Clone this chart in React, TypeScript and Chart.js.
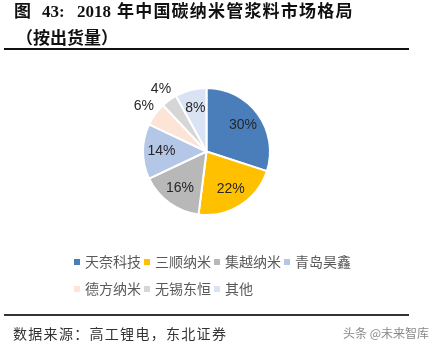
import React, { useEffect, useRef } from "react";
import { Chart, registerables } from "chart.js";

Chart.register(...registerables);

const categories = ["天奈科技", "三顺纳米", "集越纳米", "青岛昊鑫", "德方纳米", "无锡东恒", "其他"];
const shares = [30, 22, 16, 14, 6, 4, 8];
const colors = ["#4A7EBB", "#FFC000", "#B8B8B8", "#B4C7E7", "#FCE4D6", "#D6D6D6", "#DAE3F3"];

const labelPlugin = {
  id: "sliceLabels",
  afterDatasetsDraw(chart: any) {
    const ctx = chart.ctx;
    const meta = chart.getDatasetMeta(0);
    const values = chart.data.datasets[0].data as number[];
    ctx.save();
    ctx.font = '14px "Liberation Sans", Arial, sans-serif';
    ctx.fillStyle = "#262626";
    ctx.textAlign = "center";
    ctx.textBaseline = "middle";
    meta.data.forEach((arc: any, i: number) => {
      const { x, y, startAngle, endAngle, outerRadius } = arc.getProps(
        ["x", "y", "startAngle", "endAngle", "outerRadius"],
        true
      );
      const mid = (startAngle + endAngle) / 2;
      const f = values[i] < 7 ? 1.22 : 0.71;
      ctx.fillText(values[i] + "%", x + Math.cos(mid) * outerRadius * f, y + Math.sin(mid) * outerRadius * f);
    });
    ctx.restore();
  },
};

export default function App() {
  const ref = useRef<HTMLCanvasElement>(null);
  useEffect(() => {
    if (!ref.current) return;
    const chart = new Chart(ref.current, {
      type: "pie",
      data: {
        labels: categories,
        datasets: [
          {
            data: shares,
            backgroundColor: colors,
            borderColor: "#ffffff",
            borderWidth: 2,
          },
        ],
      },
      options: {
        animation: false,
        responsive: false,
        layout: { padding: { left: 142, right: 161, top: 87, bottom: 136 } },
        plugins: { legend: { display: false }, tooltip: { enabled: false } },
      },
      plugins: [labelPlugin],
    });
    return () => chart.destroy();
  }, []);

  const cjkBold = '"Liberation Serif", "Noto Sans CJK SC", serif';
  return (
    <div style={{ position: "absolute", left: 0, top: 0, width: 432, height: 352, background: "#fff", overflow: "hidden" }}>
      <canvas ref={ref} width={432} height={352} style={{ position: "absolute", left: 0, top: 0 }} />
      <div style={{ position: "absolute", top: 1, left: 0, fontFamily: cjkBold, fontWeight: 700, fontSize: 17, lineHeight: "22px", color: "#111", whiteSpace: "nowrap" }}>
        <span style={{ position: "absolute", left: 14 }}>图</span>
        <span style={{ position: "absolute", left: 42 }}>43:</span>
        <span style={{ position: "absolute", left: 77 }}>2018</span>
        <span style={{ position: "absolute", left: 117, letterSpacing: 1.2 }}>年中国碳纳米管浆料市场格局</span>
      </div>
      <div style={{ position: "absolute", top: 28, left: 16, fontFamily: cjkBold, fontWeight: 700, fontSize: 17, lineHeight: "22px", color: "#111", whiteSpace: "nowrap" }}>
        （按出货量）
      </div>
      <div style={{ position: "absolute", left: 4, top: 48, width: 405, height: 2, background: "#111" }} />
      <div style={{ position: "absolute", left: 74, top: 248, width: 290, display: "flex", flexWrap: "wrap", fontFamily: '"Noto Sans CJK SC", sans-serif', fontSize: 14, lineHeight: "27px", color: "#595959" }}>
        {categories.map((c, i) => (
          <div key={c} style={{ display: "flex", alignItems: "center", marginRight: 3, height: 27 }}>
            <span style={{ width: 6, height: 6, background: colors[i], marginRight: 5, display: "inline-block" }} />
            <span>{c}</span>
          </div>
        ))}
      </div>
      <div style={{ position: "absolute", left: 4, top: 314, width: 405, height: 2, background: "#333" }} />
      <div style={{ position: "absolute", left: 13, top: 323, fontFamily: '"Noto Sans CJK SC", sans-serif', fontSize: 14, lineHeight: "20px", letterSpacing: 1.3, color: "#333", whiteSpace: "nowrap" }}>
        数据来源：高工锂电，东北证券
      </div>
      <div style={{ position: "absolute", left: 343, top: 324, fontFamily: '"Noto Sans CJK SC", sans-serif', fontSize: 12, lineHeight: "18px", color: "#888", whiteSpace: "nowrap" }}>
        头条 @未来智库
      </div>
    </div>
  );
}
